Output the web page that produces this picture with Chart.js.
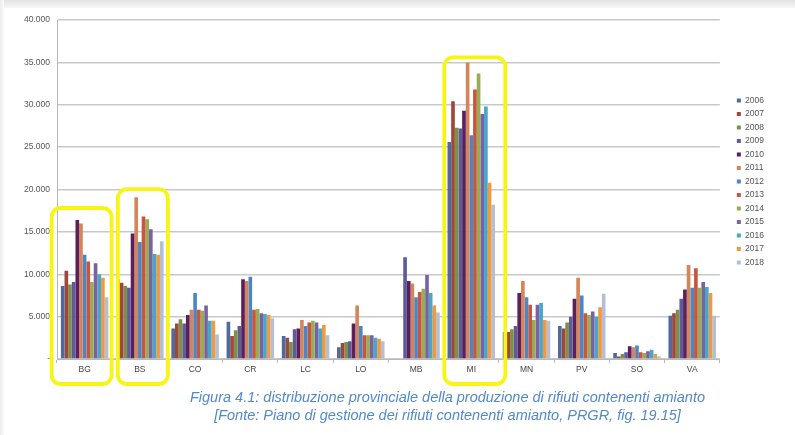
<!DOCTYPE html>
<html lang="it">
<head>
  <meta charset="UTF-8">
  <title>Distribuzione provinciale rifiuti contenenti amianto</title>
  <script src="https://cdn.jsdelivr.net/npm/chart.js"></script>
  <style>
    html, body { margin: 0; padding: 0; background: #fff; }
    body {
      width: 795px; height: 435px; overflow: hidden; position: relative;
      font-family: "Liberation Sans", Arial, sans-serif;
    }
    .frame-top { position: absolute; left: 0; top: 0; width: 795px; height: 8px; background: linear-gradient(#e2e2e2, #f7f7f7); }
    .frame-left { position: absolute; left: 0; top: 0; width: 4px; height: 435px; background: linear-gradient(90deg, #ececec, #fafafa); }
    .chart-box { position: absolute; left: 0; top: 0; width: 795px; height: 435px; }
    .caption {
      position: absolute; left: 100px; right: 0; top: 388px;
      text-align: center; color: #5289cb; font-style: italic;
      font-size: 14.5px; line-height: 18px;
    }
  </style>
</head>
<body>
  <div class="frame-top"></div>
  <div class="frame-left"></div>
  <div class="chart-box"><canvas id="chart"></canvas></div>
  <div class="caption">
    Figura 4.1: distribuzione provinciale della produzione di rifiuti contenenti amianto<br>
    [Fonte: Piano di gestione dei rifiuti contenenti amianto, PRGR, fig. 19.15]
  </div>

  <script>
    // province e anni
    const provinces = ['BG', 'BS', 'CO', 'CR', 'LC', 'LO', 'MB', 'MI', 'MN', 'PV', 'SO', 'VA'];
    const years = ['2006', '2007', '2008', '2009', '2010', '2011', '2012', '2013', '2014', '2015', '2016', '2017', '2018'];
    const yearColors = ['#4f6a9c', '#a0473c', '#7f8f4a', '#5d5b9a', '#5a1f5c', '#d4855c', '#4d86c4',
                        '#c8553d', '#9aab55', '#7862a4', '#47a7c9', '#f2983e', '#b4bfd6'];

    // valori (t) per provincia, 2006 -> 2018
    const valBG = [8600, 10400, 8800, 9100, 16400, 16000, 12300, 11500, 9100, 11300, 10000, 9600, 7300];
    const valBS = [9400, 9000, 8600, 8400, 14800, 19100, 13800, 16800, 16500, 15300, 12400, 12300, 13900];
    const valCO = [3600, 4200, 4700, 4200, 5200, 5800, 7800, 5800, 5700, 6300, 4500, 4500, 2900];
    const valCR = [4400, 2700, 3400, 3900, 9400, 9200, 9700, 5800, 5900, 5400, 5300, 5200, 4800];
    const valLC = [2700, 2500, 2000, 3500, 3600, 4600, 3900, 4300, 4500, 4300, 3600, 4000, 2800];
    const valLO = [1400, 1900, 2000, 2100, 4200, 6300, 3900, 2800, 2800, 2800, 2500, 2400, 2100];
    const valMB = [null, null, null, 12000, 9200, 8900, 7300, 7900, 8300, 9900, 7800, 6300, 5500];
    const valMI = [25600, 30400, 27300, 27200, 29300, 35000, 26400, 31800, 33700, 28900, 29800, 20800, 18200];
    const valMN = [3200, 3200, 3500, 3900, 7800, 9200, 7300, 6400, 4600, 6400, 6600, 4600, 4500];
    const valPV = [3900, 3600, 4300, 5000, 7100, 9600, 7500, 5400, 5200, 5600, 5000, 6100, 7700];
    const valSO = [700, 300, 600, 800, 1500, 1400, 1600, 800, 700, 900, 1100, 600, 300];
    const valVA = [5100, 5400, 5800, 7100, 8200, 11100, 8400, 10700, 8400, 9100, 8500, 7800, 5100];

    const rows = [valBG, valBS, valCO, valCR, valLC, valLO, valMB, valMI, valMN, valPV, valSO, valVA];

    // province evidenziate (riquadri gialli): offset dal centro categoria e margine sopra la barra piu alta
    const highlights = [
      { cat: 'BG', from: -33, to: 27, above: 12 },
      { cat: 'BS', from: -22, to: 28, above: 8 },
      { cat: 'MI', from: -27, to: 34, above: 5 }
    ];

    function fmtThousands(v) {
      if (v === 0) return '-';
      return String(v).replace(/\B(?=(\d{3})+(?!\d))/g, '.');
    }

    const datasets = years.map((y, i) => ({
      label: y,
      data: rows.map(r => r[i]),
      backgroundColor: yearColors[i],
      borderWidth: 0,
      barPercentage: 1.0,
      categoryPercentage: 0.86
    }));

    // disegna i riquadri gialli sopra le barre
    const highlightPlugin = {
      id: 'highlightBoxes',
      afterDraw(chart) {
        const ctx = chart.ctx;
        const xs = chart.scales.x, ys = chart.scales.y;
        ctx.save();
        ctx.strokeStyle = '#f8f414';
        ctx.lineWidth = 3.8;
        highlights.forEach(h => {
          const idx = provinces.indexOf(h.cat);
          const cx = xs.getPixelForValue(idx);
          const maxVal = Math.max(...rows[idx].filter(v => v != null));
          const top = ys.getPixelForValue(maxVal) - h.above;
          const bottom = ys.bottom + 25;
          ctx.beginPath();
          ctx.roundRect(cx + h.from, top, h.to - h.from, bottom - top, 9);
          ctx.stroke();
        });
        ctx.restore();
      }
    };

    const smallFont = { family: '"Liberation Sans", Arial, sans-serif', size: 8.5 };

    new Chart(document.getElementById('chart'), {
      type: 'bar',
      data: { labels: provinces, datasets: datasets },
      options: {
        responsive: true,
        maintainAspectRatio: false,
        animation: false,
        layout: { padding: { left: 0, top: 20, right: 21, bottom: 56 } },
        plugins: {
          legend: {
            position: 'right',
            align: 'start',
            // titolo vuoto usato solo come spazio sopra le voci
            title: { display: true, text: ' ', font: smallFont, padding: { top: 33, bottom: 28 } },
            labels: {
              boxWidth: 4, boxHeight: 4, padding: 5,
              color: '#555', font: smallFont
            }
          },
          tooltip: { enabled: false }
        },
        scales: {
          x: {
            afterFit: s => { s.height = 20; },
            grid: { drawOnChartArea: false, tickLength: 4, color: '#b8b8b8' },
            border: { color: '#b8b8b8' },
            ticks: { color: '#444', font: smallFont, padding: 2 }
          },
          y: {
            min: 0, max: 40000,
            afterFit: s => { s.width = 57; },
            grid: { color: '#c9c9c9', lineWidth: 1.5, drawTicks: false },
            border: { color: '#b8b8b8' },
            ticks: { stepSize: 5000, color: '#555', font: smallFont, padding: 7, callback: v => fmtThousands(v) }
          },
          spacer: {
            type: 'linear', position: 'right', display: true,
            afterFit: s => { s.width = 12; },
            grid: { display: false }, border: { display: false },
            ticks: { display: false }
          }
        }
      },
      plugins: [highlightPlugin]
    });
  </script>
</body>
</html>
